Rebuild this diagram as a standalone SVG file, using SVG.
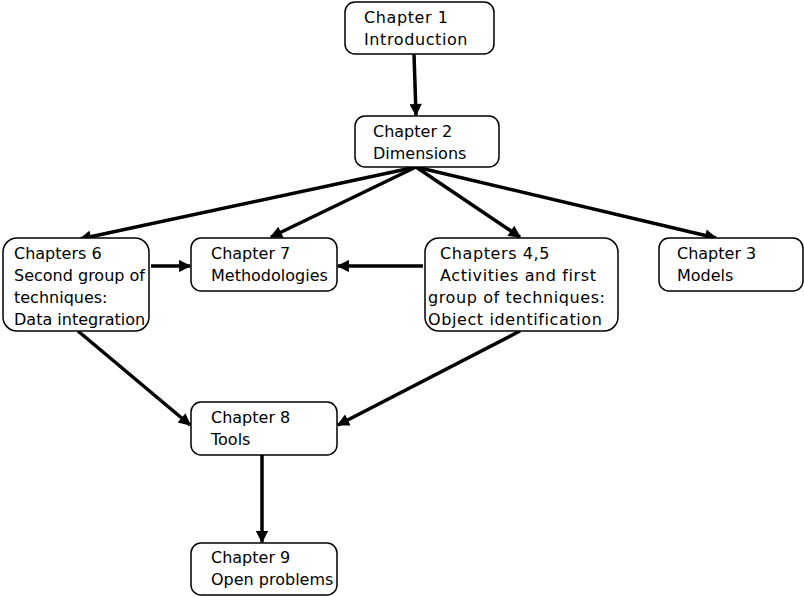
<svg xmlns="http://www.w3.org/2000/svg" width="804" height="596" viewBox="0 0 804 596">
<defs>
<marker id="ah" viewBox="0 0 10 10" refX="9" refY="5" markerWidth="4" markerHeight="3.5" orient="auto" markerUnits="strokeWidth">
<path d="M0,0 L10,5 L0,10 z" fill="#000"/>
</marker>
<style>
.n rect{fill:#fff;stroke:#000;stroke-width:1.5}
.n text{font-family:"DejaVu Sans",sans-serif;font-size:16px;fill:#000}
.w text{letter-spacing:0.6px}
#edges line{stroke:#000;stroke-width:3.5;marker-end:url(#ah)}
</style>
</defs>
<rect width="804" height="596" fill="#fff"/>
<g id="edges">
<line x1="414" y1="54" x2="416" y2="115"/>
<line x1="416" y1="167" x2="80" y2="239"/>
<line x1="416" y1="167" x2="271" y2="237"/>
<line x1="416" y1="167" x2="520" y2="237"/>
<line x1="416" y1="167" x2="716" y2="238"/>
<line x1="151" y1="266" x2="190" y2="266"/>
<line x1="423" y1="266" x2="338" y2="266"/>
<line x1="78" y1="331" x2="190" y2="425"/>
<line x1="520" y1="331" x2="338" y2="425"/>
<line x1="262" y1="455" x2="262" y2="542"/>
</g>
<g id="ch1" class="n w"><rect x="345" y="2" width="149" height="52" rx="10"/><text x="364" y="23">Chapter 1</text><text x="364" y="45">Introduction</text></g>
<g id="ch2" class="n"><rect x="355" y="116" width="144" height="51" rx="10"/><text x="373" y="137">Chapter 2</text><text x="373" y="159">Dimensions</text></g>
<g id="ch6" class="n"><rect x="3" y="238" width="146" height="93" rx="14"/><text x="14" y="259">Chapters 6</text><text x="14" y="281">Second group of</text><text x="14" y="303">techniques:</text><text x="14" y="325">Data integration</text></g>
<g id="ch7" class="n"><rect x="191" y="238" width="146" height="53" rx="10"/><text x="211" y="259">Chapter 7</text><text x="211" y="281">Methodologies</text></g>
<g id="ch45" class="n w"><rect x="425" y="238" width="193" height="93" rx="14"/><text x="440" y="259">Chapters 4,5</text><text x="440" y="281">Activities and first</text><text x="428" y="303">group of techniques:</text><text x="428" y="325">Object identification</text></g>
<g id="ch3" class="n"><rect x="659" y="238" width="144" height="53" rx="10"/><text x="677" y="259">Chapter 3</text><text x="677" y="281">Models</text></g>
<g id="ch8" class="n"><rect x="191" y="402" width="146" height="53" rx="10"/><text x="211" y="423">Chapter 8</text><text x="211" y="445">Tools</text></g>
<g id="ch9" class="n"><rect x="191" y="543" width="146" height="52" rx="10"/><text x="211" y="563">Chapter 9</text><text x="211" y="585">Open problems</text></g>
</svg>
